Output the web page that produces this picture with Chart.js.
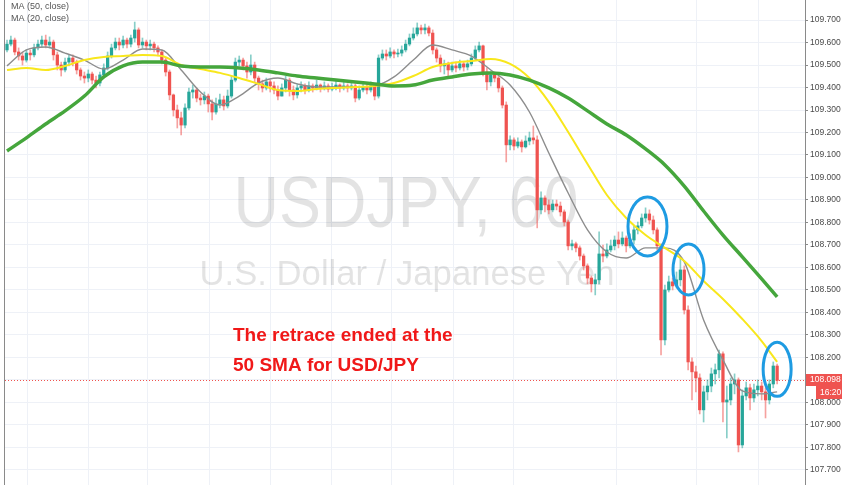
<!DOCTYPE html>
<html>
<head>
<meta charset="utf-8">
<script src="https://cdn.jsdelivr.net/npm/chart.js@4.4.1/dist/chart.umd.min.js"></script>
<style>
    html, body { margin: 0; padding: 0; background: #fff; }
    #wrap { width: 852px; height: 485px; }
</style>
</head>
<body>
<div id="wrap"><canvas id="chart" width="852" height="485"></canvas></div>
<script>
// USDJPY 60 - candles (o/h/l/c), index = bar number
const opens = [
    109.567, 109.593, 109.611, 109.558, 109.540, 109.522, 109.553, 109.545, 109.576, 109.593,
    109.611, 109.589, 109.602, 109.545, 109.500, 109.478, 109.513, 109.531, 109.513, 109.478,
    109.451, 109.442, 109.460, 109.433, 109.420, 109.456, 109.487, 109.540, 109.576, 109.602,
    109.589, 109.611, 109.593, 109.620, 109.656, 109.589, 109.602, 109.585, 109.593, 109.576,
    109.558, 109.522, 109.469, 109.367, 109.300, 109.265, 109.233, 109.309, 109.380, 109.389,
    109.353, 109.345, 109.362, 109.327, 109.291, 109.327, 109.345, 109.318, 109.362, 109.433,
    109.513, 109.522, 109.496, 109.469, 109.500, 109.442, 109.416, 109.398, 109.425, 109.407,
    109.389, 109.362, 109.398, 109.433, 109.389, 109.367, 109.398, 109.407, 109.389, 109.407,
    109.398, 109.411, 109.398, 109.407, 109.393, 109.402, 109.411, 109.398, 109.407, 109.398,
    109.407, 109.353, 109.389, 109.402, 109.389, 109.407, 109.362, 109.531, 109.549, 109.540,
    109.558, 109.549, 109.553, 109.567, 109.593, 109.620, 109.638, 109.665, 109.656, 109.665,
    109.642, 109.567, 109.531, 109.496, 109.505, 109.478, 109.496, 109.487, 109.505, 109.491,
    109.505, 109.531, 109.567, 109.585, 109.469, 109.425, 109.456, 109.442, 109.398, 109.322,
    109.145, 109.167, 109.140, 109.158, 109.136, 109.162, 109.176, 109.167, 108.856, 108.909,
    108.878, 108.856, 108.882, 108.873, 108.847, 108.802, 108.696, 108.705, 108.687, 108.651,
    108.607, 108.553, 108.527, 108.545, 108.660, 108.651, 108.678, 108.696, 108.722, 108.705,
    108.731, 108.696, 108.722, 108.767, 108.785, 108.820, 108.838, 108.811, 108.767, 108.696,
    108.278, 108.500, 108.536, 108.518, 108.545, 108.589, 108.411, 108.180, 108.136, 108.109,
    107.967, 108.047, 108.073, 108.127, 108.145, 108.216, 108.002, 108.011, 108.082, 108.100,
    107.811, 108.029, 108.065, 108.020, 108.056, 108.073, 108.047, 108.011, 108.082, 108.162
];
const highs = [
    109.611, 109.629, 109.620, 109.576, 109.558, 109.567, 109.567, 109.593, 109.611, 109.629,
    109.633, 109.625, 109.611, 109.558, 109.513, 109.531, 109.545, 109.545, 109.522, 109.487,
    109.469, 109.478, 109.469, 109.451, 109.469, 109.505, 109.558, 109.593, 109.620, 109.620,
    109.629, 109.620, 109.633, 109.691, 109.665, 109.620, 109.611, 109.611, 109.602, 109.585,
    109.567, 109.531, 109.478, 109.371, 109.322, 109.291, 109.327, 109.398, 109.411, 109.398,
    109.371, 109.380, 109.371, 109.345, 109.353, 109.371, 109.362, 109.389, 109.451, 109.531,
    109.540, 109.531, 109.513, 109.545, 109.513, 109.451, 109.433, 109.442, 109.433, 109.425,
    109.407, 109.416, 109.451, 109.442, 109.407, 109.416, 109.425, 109.416, 109.425, 109.416,
    109.433, 109.416, 109.425, 109.416, 109.420, 109.433, 109.416, 109.425, 109.416, 109.425,
    109.416, 109.407, 109.420, 109.416, 109.425, 109.416, 109.545, 109.567, 109.567, 109.576,
    109.567, 109.571, 109.585, 109.611, 109.638, 109.665, 109.687, 109.678, 109.682, 109.673,
    109.656, 109.576, 109.545, 109.522, 109.513, 109.513, 109.513, 109.522, 109.513, 109.522,
    109.549, 109.585, 109.602, 109.589, 109.487, 109.469, 109.469, 109.451, 109.407, 109.336,
    109.185, 109.176, 109.176, 109.167, 109.185, 109.202, 109.229, 109.185, 108.936, 108.918,
    108.900, 108.900, 108.900, 108.891, 108.856, 108.811, 108.722, 108.713, 108.696, 108.660,
    108.616, 108.562, 108.571, 108.758, 108.700, 108.705, 108.722, 108.740, 108.758, 108.758,
    108.740, 108.749, 108.785, 108.802, 108.838, 108.865, 108.856, 108.829, 108.776, 108.705,
    108.522, 108.562, 108.553, 108.580, 108.642, 108.607, 108.429, 108.198, 108.162, 108.127,
    108.073, 108.100, 108.153, 108.171, 108.233, 108.225, 108.073, 108.109, 108.127, 108.109,
    108.056, 108.091, 108.082, 108.082, 108.100, 108.091, 108.065, 108.100, 108.180, 108.171
];
const lows = [
    109.558, 109.585, 109.545, 109.522, 109.500, 109.513, 109.522, 109.536, 109.567, 109.580,
    109.576, 109.576, 109.522, 109.478, 109.451, 109.469, 109.496, 109.496, 109.460, 109.433,
    109.420, 109.425, 109.416, 109.398, 109.407, 109.442, 109.478, 109.531, 109.567, 109.567,
    109.576, 109.576, 109.580, 109.602, 109.576, 109.576, 109.567, 109.567, 109.558, 109.540,
    109.505, 109.451, 109.345, 109.273, 109.220, 109.189, 109.220, 109.300, 109.353, 109.336,
    109.322, 109.327, 109.291, 109.256, 109.282, 109.309, 109.300, 109.309, 109.353, 109.425,
    109.496, 109.478, 109.442, 109.456, 109.425, 109.389, 109.380, 109.389, 109.380, 109.371,
    109.345, 109.362, 109.380, 109.362, 109.345, 109.353, 109.380, 109.371, 109.380, 109.380,
    109.389, 109.380, 109.389, 109.380, 109.385, 109.389, 109.380, 109.389, 109.380, 109.389,
    109.336, 109.345, 109.380, 109.371, 109.380, 109.345, 109.353, 109.522, 109.522, 109.531,
    109.531, 109.536, 109.540, 109.558, 109.585, 109.611, 109.629, 109.638, 109.638, 109.629,
    109.549, 109.513, 109.469, 109.460, 109.442, 109.469, 109.469, 109.478, 109.473, 109.478,
    109.496, 109.522, 109.558, 109.451, 109.389, 109.407, 109.425, 109.380, 109.309, 109.069,
    109.122, 109.122, 109.131, 109.113, 109.131, 109.145, 109.149, 108.776, 108.838, 108.847,
    108.838, 108.847, 108.856, 108.829, 108.785, 108.678, 108.678, 108.669, 108.633, 108.589,
    108.527, 108.491, 108.478, 108.527, 108.625, 108.642, 108.669, 108.678, 108.687, 108.696,
    108.669, 108.687, 108.705, 108.749, 108.776, 108.802, 108.793, 108.749, 108.678, 108.211,
    108.256, 108.491, 108.500, 108.509, 108.518, 108.393, 108.145, 108.011, 108.047, 107.949,
    107.913, 108.011, 108.047, 108.082, 108.109, 107.913, 107.842, 107.989, 108.038, 107.780,
    107.798, 108.011, 107.967, 108.002, 108.029, 108.011, 107.931, 107.993, 108.065, 108.082
];
const closes = [
    109.593, 109.611, 109.558, 109.540, 109.522, 109.553, 109.545, 109.576, 109.593, 109.611,
    109.589, 109.602, 109.545, 109.500, 109.478, 109.513, 109.531, 109.513, 109.478, 109.451,
    109.442, 109.460, 109.433, 109.420, 109.456, 109.487, 109.540, 109.576, 109.602, 109.589,
    109.611, 109.593, 109.620, 109.656, 109.589, 109.602, 109.585, 109.593, 109.576, 109.558,
    109.522, 109.469, 109.367, 109.300, 109.265, 109.233, 109.309, 109.380, 109.389, 109.353,
    109.345, 109.362, 109.327, 109.291, 109.327, 109.345, 109.318, 109.362, 109.433, 109.513,
    109.522, 109.496, 109.469, 109.500, 109.442, 109.416, 109.398, 109.425, 109.407, 109.389,
    109.362, 109.398, 109.433, 109.389, 109.367, 109.398, 109.407, 109.389, 109.407, 109.398,
    109.411, 109.398, 109.407, 109.393, 109.402, 109.411, 109.398, 109.407, 109.398, 109.407,
    109.353, 109.389, 109.402, 109.389, 109.407, 109.362, 109.531, 109.549, 109.540, 109.558,
    109.549, 109.553, 109.567, 109.593, 109.620, 109.638, 109.665, 109.656, 109.665, 109.642,
    109.567, 109.531, 109.496, 109.505, 109.478, 109.496, 109.487, 109.505, 109.491, 109.505,
    109.531, 109.567, 109.585, 109.469, 109.425, 109.456, 109.442, 109.398, 109.322, 109.145,
    109.167, 109.140, 109.158, 109.136, 109.162, 109.176, 109.167, 108.856, 108.909, 108.878,
    108.856, 108.882, 108.873, 108.847, 108.802, 108.696, 108.705, 108.687, 108.651, 108.607,
    108.553, 108.527, 108.545, 108.660, 108.651, 108.678, 108.696, 108.722, 108.705, 108.731,
    108.696, 108.722, 108.767, 108.785, 108.820, 108.838, 108.811, 108.767, 108.696, 108.278,
    108.500, 108.536, 108.518, 108.545, 108.589, 108.411, 108.180, 108.136, 108.109, 107.967,
    108.047, 108.073, 108.127, 108.145, 108.216, 108.002, 108.011, 108.082, 108.100, 107.811,
    108.029, 108.065, 108.020, 108.056, 108.073, 108.047, 108.011, 108.082, 108.162, 108.098
];

// moving averages, sampled at these bar numbers
const maIdx = [0, 5, 10, 15, 20, 25, 30, 35, 40, 45, 50, 55, 60, 65, 70, 75, 80, 85, 90, 95,
    100, 105, 110, 115, 120, 125, 130, 135, 140, 145, 150, 155, 160, 165, 170, 175, 180, 185, 190, 195, 199];
const maGray = [109.496, 109.567, 109.580, 109.553, 109.522, 109.482, 109.522, 109.571, 109.567, 109.478,
    109.380, 109.322, 109.362, 109.420, 109.442, 109.416, 109.402, 109.402, 109.402, 109.407,
    109.447, 109.522, 109.589, 109.567, 109.540, 109.478, 109.411, 109.291, 109.109, 108.931,
    108.767, 108.669, 108.642, 108.687, 108.687, 108.625, 108.367, 108.189, 108.051, 108.038, 108.047];
const maYellow = [109.478, 109.487, 109.478, 109.496, 109.522, 109.536, 109.540, 109.545, 109.540, 109.500,
    109.482, 109.465, 109.442, 109.416, 109.389, 109.385, 109.393, 109.398, 109.402, 109.407,
    109.420, 109.451, 109.491, 109.509, 109.518, 109.527, 109.505, 109.442, 109.336, 109.202,
    109.060, 108.922, 108.820, 108.744, 108.687, 108.629, 108.540, 108.460, 108.371, 108.273, 108.180];
const maGreen = [109.118, 109.176, 109.238, 109.296, 109.362, 109.447, 109.496, 109.513, 109.513, 109.496,
    109.491, 109.491, 109.487, 109.478, 109.465, 109.451, 109.442, 109.433, 109.425, 109.416,
    109.407, 109.411, 109.433, 109.447, 109.460, 109.465, 109.456, 109.433, 109.398, 109.353,
    109.296, 109.238, 109.189, 109.127, 109.056, 108.962, 108.851, 108.744, 108.647, 108.549, 108.469];

// axes
const yTicks = [107.7, 107.8, 107.9, 108.0, 108.1, 108.2, 108.3, 108.4, 108.5, 108.6, 108.7,
    108.8, 108.9, 109.0, 109.1, 109.2, 109.3, 109.4, 109.5, 109.6, 109.7, 109.8];
const dayLines = [5.17, 20.93, 36.43, 52.2, 67.96, 83.72, 99.48, 115.25, 130.75, 157.62, 178.29, 194.06];
const yMin = 107.633;
const yMax = 109.789;
const lastPrice = closes[closes.length - 1];
const lastTime = '16:20';

const UP = '#26a69a';
const DOWN = '#ef5350';
const UP_WICK = 'rgba(38, 166, 154, 0.55)';
const DOWN_WICK = 'rgba(239, 83, 80, 0.55)';
const FONT = '"Liberation Sans", Arial, sans-serif';

const isUp = i => closes[i] >= opens[i];

// circled touches of the moving average (bar number, price)
const rings = [
    { i: 165.5, p: 108.782, rx: 19.5, ry: 29.5 },
    { i: 176.1, p: 108.591, rx: 15.5, ry: 25.5 },
    { i: 199.0, p: 108.147, rx: 14, ry: 27 }
];

/**
 * Fond yazıları, fiyat çizgisi, halkalar ve etiketler
 */
const overlay = {
    id: 'overlay',
    beforeDatasetsDraw(chart) {
        const { ctx, chartArea, scales } = chart;
        ctx.save();
        ctx.fillStyle = 'rgba(0, 0, 0, 0.11)';
        ctx.textAlign = 'center';
        ctx.textBaseline = 'alphabetic';
        fitText(ctx, 'USDJPY, 60', '72px ' + FONT, 406, 227, 345);
        fitText(ctx, 'U.S. Dollar / Japanese Yen', '35px ' + FONT, 407, 285, 415);

        const y = scales.y.getPixelForValue(lastPrice);
        ctx.strokeStyle = DOWN;
        ctx.lineWidth = 1;
        ctx.setLineDash([1, 2]);
        ctx.beginPath();
        ctx.moveTo(chartArea.left, Math.round(y) + 0.5);
        ctx.lineTo(chartArea.right, Math.round(y) + 0.5);
        ctx.stroke();
        ctx.restore();
    },
    afterDatasetsDraw(chart) {
        const { ctx, scales } = chart;
        ctx.save();
        ctx.strokeStyle = '#1e9be2';
        ctx.lineWidth = 3;
        rings.forEach(r => {
            ctx.beginPath();
            ctx.ellipse(scales.x.getPixelForValue(r.i), scales.y.getPixelForValue(r.p), r.rx, r.ry, 0, 0, Math.PI * 2);
            ctx.stroke();
        });

        ctx.fillStyle = '#f01818';
        ctx.font = 'bold 19px ' + FONT;
        ctx.textAlign = 'left';
        ctx.textBaseline = 'middle';
        ctx.fillText('The retrace ended at the', 233, 336);
        ctx.fillText('50 SMA for USD/JPY', 233, 366);

        ctx.fillStyle = '#555';
        ctx.font = '9px ' + FONT;
        ctx.fillText('MA (50, close)', 11, 7);
        ctx.fillText('MA (20, close)', 11, 19);
        ctx.restore();
    },
    afterDraw(chart) {
        const { ctx, chartArea, scales } = chart;
        const y = Math.round(scales.y.getPixelForValue(lastPrice));
        ctx.save();
        ctx.strokeStyle = '#8a8a8a';
        ctx.lineWidth = 1;
        ctx.beginPath();
        ctx.moveTo(chartArea.left - 0.5, 0);
        ctx.lineTo(chartArea.left - 0.5, chartArea.bottom);
        ctx.stroke();

        ctx.fillStyle = DOWN;
        ctx.fillRect(chartArea.right + 1, y - 6, 36, 12);
        ctx.fillRect(chartArea.right + 11, y + 6, 26, 13);
        ctx.fillStyle = '#fff';
        ctx.font = '8.5px ' + FONT;
        ctx.textAlign = 'left';
        ctx.textBaseline = 'middle';
        ctx.fillText(lastPrice.toFixed(3), chartArea.right + 5, y);
        ctx.fillText(lastTime, chartArea.right + 15, y + 13);
        ctx.restore();
    }
};

function fitText(ctx, text, font, cx, baseY, width) {
    ctx.font = font;
    const w = ctx.measureText(text).width;
    ctx.save();
    ctx.translate(cx, baseY);
    ctx.scale(width / w, 1);
    ctx.fillText(text, 0, 0);
    ctx.restore();
}

const bars = closes.map((c, i) => i);

new Chart(document.getElementById('chart'), {
    type: 'bar',
    data: {
        datasets: [
            {
                type: 'line',
                data: maIdx.map((x, k) => ({ x, y: maGreen[k] })),
                borderColor: '#45a63c',
                borderWidth: 3.5,
                pointRadius: 0,
                cubicInterpolationMode: 'monotone',
                order: 0
            },
            {
                type: 'line',
                data: maIdx.map((x, k) => ({ x, y: maYellow[k] })),
                borderColor: '#f8e71c',
                borderWidth: 2,
                pointRadius: 0,
                cubicInterpolationMode: 'monotone',
                order: 0
            },
            {
                type: 'line',
                data: maIdx.map((x, k) => ({ x, y: maGray[k] })),
                borderColor: '#8d8d8d',
                borderWidth: 1.4,
                pointRadius: 0,
                cubicInterpolationMode: 'monotone',
                order: 0
            },
            {
                data: bars.map(i => ({ x: i, y: [opens[i], closes[i]] })),
                backgroundColor: bars.map(i => isUp(i) ? UP : DOWN),
                barThickness: 2.6,
                minBarLength: 1,
                borderWidth: 0,
                grouped: false,
                order: 1
            },
            {
                data: bars.map(i => ({ x: i, y: [lows[i], highs[i]] })),
                backgroundColor: bars.map(i => isUp(i) ? UP_WICK : DOWN_WICK),
                barThickness: 1,
                borderWidth: 0,
                grouped: false,
                order: 2
            }
        ]
    },
    options: {
        responsive: false,
        animation: false,
        events: [],
        layout: { padding: { left: 5, right: 0, top: 0, bottom: 0 } },
        plugins: {
            legend: { display: false },
            tooltip: { enabled: false }
        },
        scales: {
            x: {
                type: 'linear',
                min: -0.52,
                max: 206.2,
                offset: false,
                afterBuildTicks: s => { s.ticks = dayLines.map(v => ({ value: v })); },
                afterFit: s => { s.height = 0; s.paddingLeft = 0; s.paddingRight = 0; },
                ticks: { display: false },
                grid: { color: '#eef1f7', drawTicks: false, offset: false },
                border: { display: false }
            },
            y: {
                position: 'right',
                min: yMin,
                max: yMax,
                afterBuildTicks: s => { s.ticks = yTicks.map(v => ({ value: v })); },
                afterFit: s => { s.width = 47; s.paddingTop = 0; s.paddingBottom = 0; },
                ticks: {
                    autoSkip: false,
                    color: '#4a4a4a',
                    padding: 2,
                    font: { family: FONT, size: 8.5 },
                    callback: v => v.toFixed(3)
                },
                grid: { color: '#eef1f7', tickColor: '#8a8a8a', tickLength: 3 },
                border: { display: true, color: '#8a8a8a' }
            }
        }
    },
    plugins: [overlay]
});
</script>
</body>
</html>
